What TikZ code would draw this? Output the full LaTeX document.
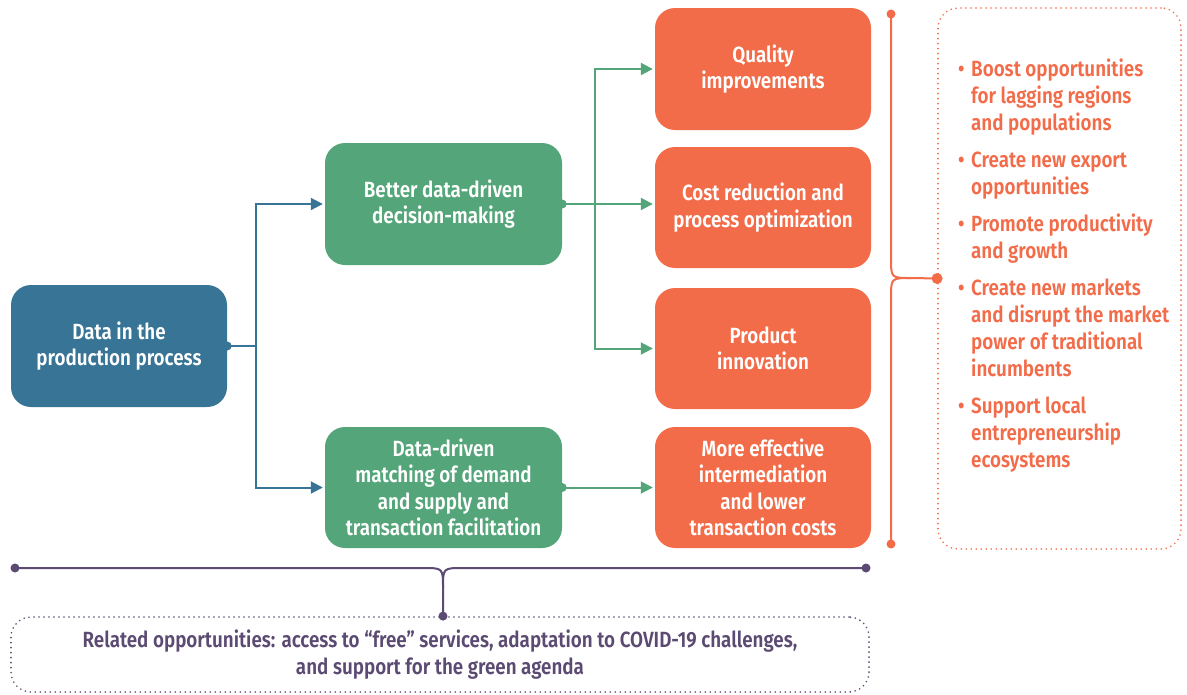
\documentclass[tikz,border=0pt]{standalone}
\usepackage{fontspec}
\setmainfont{Fira Sans}[FakeStretch=0.855, UprightFont=* SemiBold]
\usetikzlibrary{arrows.meta}
\definecolor{cblue}{HTML}{377495}
\definecolor{cgreen}{HTML}{54A579}
\definecolor{corange}{HTML}{F26C4A}
\definecolor{cpurple}{HTML}{5B4A72}
\newcommand\bitem[1]{\par\noindent\hangindent=13pt\hangafter=1\makebox[13pt][l]{\textbullet}#1\par}
\tikzset{
  box/.style={rounded corners=20pt, minimum width=216pt, minimum height=121pt, text=white, align=center,
    font=\fontsize{22}{26.5}\selectfont, inner sep=0pt},
  bluebox/.style={box, fill=cblue},
  greenbox/.style={box, fill=cgreen, minimum width=237pt},
  orangebox/.style={box, fill=corange},
  bline/.style={draw=cblue, line width=2pt},
  gline/.style={draw=cgreen, line width=2pt},
  oline/.style={draw=corange, line width=2pt},
  pline/.style={draw=cpurple, line width=2pt},
  tip/.style={-{Triangle[length=12pt,width=12pt]}, shorten >=2pt},
  dotbox/.style={rounded corners=20pt, line width=1.8pt, dash pattern=on 0pt off 5pt, line cap=round},
}
\begin{document}
\begin{tikzpicture}[x=1pt,y=-1pt]
\useasboundingbox (0,0) rectangle (1187,694);
% boxes
\node[bluebox, minimum height=122pt] (data) at (119,346) {Data in the\\production process};
\node[greenbox, minimum height=122pt] (better) at (443.5,204) {Better data-driven\\decision-making};
\node[greenbox] (match) at (443.5,487.5) {Data-driven\\matching of demand\\and supply and\\transaction facilitation};
\node[orangebox, minimum height=122pt] (quality) at (763,69) {Quality\\improvements};
\node[orangebox] (cost) at (763,207.5) {Cost reduction and\\process optimization};
\node[orangebox] (product) at (763,348.5) {Product\\innovation};
\node[orangebox] (more) at (763,487.5) {More effective\\intermediation\\and lower\\transaction costs};
% blue connectors
\coordinate (bj) at (256,346);
\draw[bline] (data.east) -- (bj);
\fill[cblue] (data.east) circle (4.5pt);
\draw[bline, tip] (bj) |- (better.west);
\draw[bline, tip] (bj) |- (match.west);
% green connectors
\coordinate (gj) at (595,206);
\draw[gline, tip] (better.east) -- (better.east -| cost.west);
\fill[cgreen] (better.east) circle (4.5pt);
\draw[gline, tip] (gj) |- (quality.west);
\draw[gline, tip] (gj) |- (product.west);
\draw[gline, tip] (match.east) -- (match.east -| more.west);
\fill[cgreen] (match.east) circle (4.5pt);
% orange brace and list
\node[dotbox, draw=corange, minimum width=243pt, minimum height=541pt] (opps) at (1059.5,278.5) {};
\coordinate (ot) at (891,14);
\coordinate (ob) at (891,544);
\coordinate (om) at (opps.west);
\draw[oline] (ot) -- (891,258) .. controls (891,278) .. (911,278) -- (om);
\draw[oline] (ob) -- (891,298) .. controls (891,278) .. (911,278);
\fill[corange] (ot) circle (4.5pt) (ob) circle (4.5pt) (om) circle (5.5pt);
\node[anchor=base west, inner sep=0pt, text=corange, font=\fontsize{22}{27}\selectfont] (list) at (958,76)
{\parbox[t]{225pt}{\raggedright\setlength{\parskip}{10pt}%
\bitem{Boost opportunities\newline for lagging regions\newline and populations}%
\bitem{Create new export\newline opportunities}%
\bitem{Promote productivity\newline and growth}%
\bitem{Create new markets\newline and disrupt the market\newline power of traditional\newline incumbents}%
\bitem{Support local\newline entrepreneurship\newline ecosystems}}};
% purple brace and box
\node[dotbox, draw=cpurple, minimum width=858pt, minimum height=75pt, text=cpurple, align=center,
  font=\fontsize{22}{27}\selectfont] (related) at (440,654.5)
  {Related opportunities: access to “free” services, adaptation to COVID-19 challenges,\\and support for the green agenda};
\coordinate (pl) at (15,568);
\coordinate (pr) at (866,568);
\coordinate (pm) at (related.north -| 443,0);
\draw[pline] (pl) -- (423,568) .. controls (443,568) .. (443,588) -- (pm);
\draw[pline] (pr) -- (463,568) .. controls (443,568) .. (443,588);
\fill[cpurple] (pl) circle (4.5pt) (pr) circle (4.5pt) (pm) circle (4.5pt);
\end{tikzpicture}
\end{document}
